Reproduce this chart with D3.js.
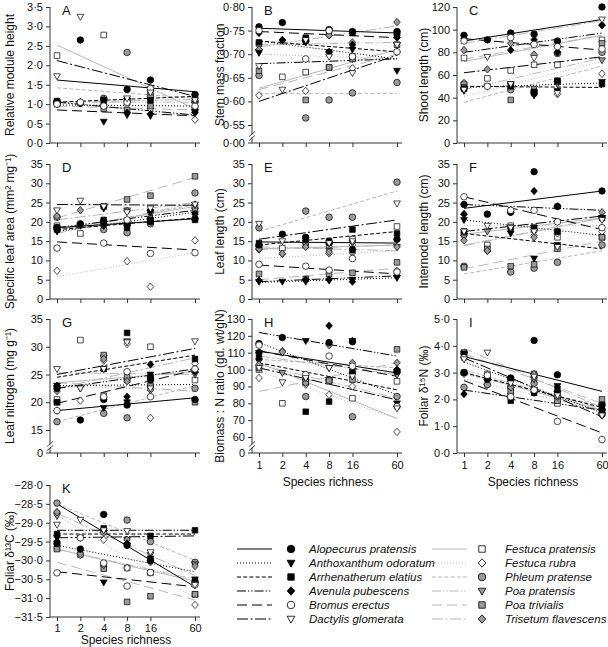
<!DOCTYPE html>
<html><head><meta charset="utf-8">
<script src="https://cdn.jsdelivr.net/npm/d3@7"></script>
<style>body{margin:0;background:#fff}svg{display:block;font-family:"Liberation Sans",Arial,sans-serif}</style>
</head><body><svg id="c" width="608" height="647"></svg>
<script>
const richness = [1, 2, 4, 8, 16, 60];
const species = ["Alopecurus pratensis","Anthoxanthum odoratum","Arrhenatherum elatius","Avenula pubescens","Bromus erectus","Dactylis glomerata","Festuca pratensis","Festuca rubra","Phleum pratense","Poa pratensis","Poa trivialis","Trisetum flavescens"];

// ---- A: relative module height
const ptsA = [[1.05,2.65,null,1.38,1.62,1.25],[1.02,null,0.55,0.72,0.70,0.80],[1.08,null,1.10,1.12,1.10,1.20],[1.00,1.02,1.00,0.78,0.75,0.78],[1.00,1.05,0.95,1.05,1.40,0.95],[1.72,3.25,null,1.15,1.30,1.10],[2.25,null,2.78,1.10,1.38,0.85],[1.02,1.05,0.98,1.00,0.88,0.60],[1.05,1.02,1.15,2.33,1.25,1.05],[1.05,null,1.10,1.08,1.10,1.00],[1.00,null,0.88,0.85,0.95,0.90],[1.05,1.05,1.12,1.08,1.20,1.10]];
const fitA = [[1.62,1.32],[0.98,0.95],[1.05,1.20],[1.05,0.72],[0.85,0.70],[2.12,1.20],[2.52,0.88],[1.05,0.70],[1.42,1.15],[1.05,1.05],[0.95,0.85],[1.05,1.12]];
// ---- B: stem mass fraction
const ptsB = [[0.758,0.767,0.728,0.752,0.748,0.748],[0.703,null,0.725,0.705,0.710,0.665],[0.725,null,0.735,0.750,0.745,0.740],[0.745,0.730,0.727,0.705,0.720,0.735],[0.750,null,0.690,0.750,0.695,0.705],[0.675,0.625,0.730,0.695,0.660,0.720],[0.722,0.652,0.662,0.672,0.695,0.745],[0.613,0.730,0.622,0.740,0.670,0.705],[0.655,null,0.565,0.603,0.618,0.640],[0.705,null,null,0.700,0.690,0.720],[0.665,null,0.603,0.672,0.690,0.720],[0.710,0.730,0.730,0.740,0.725,0.768]];
const fitB = [[0.755,0.745],[0.728,0.690],[0.728,0.705],[0.680,0.690],[0.748,0.735],[0.600,0.698],[0.628,0.710],[0.700,0.690],[0.617,0.617],[0.720,0.725],[0.625,0.700],[0.715,0.760]];
// ---- C: shoot length
const ptsC = [[95,91,97,96,90,120],[47,50,52,42,46,54],[48,null,50,45,55,52],[92,null,82,91,80,104],[90,50,93,87,85,83],[47,76,52,75,44,109],[75,57,64,69,69,91],[53,null,49,45,43,61],[52,null,47,46,79,80],[46,null,51,48,52,73],[49,null,38,44,54,88],[82,65,88,78,80,104]];
const fitC = [[90,109],[49,53],[50,49],[80,97],[92,82],[62,76],[72,95],[41,72],[36,68],[47,75],[74,95],[88,108]];
// ---- D: specific leaf area
const ptsD = [[18.5,19.5,20,19.5,20,20.8],[17.5,19,23.5,18.5,22.5,22],[18,null,20.5,18.5,20.5,20.5],[18.5,null,19,19.5,23,22],[13.2,null,14.5,20.5,11.8,12],[23,25.5,24,22.5,23.5,24.5],[19,17,20,20,20,23.5],[7.3,null,null,9.8,3.2,15.2],[21.2,null,18,17.2,19.5,27.5],[18,null,19.5,23,22,23],[18.5,null,24,25.8,26.8,31.8],[21.5,23,19.5,22.8,21,24.5]];
const fitD = [[18.5,20.8],[17.5,22.5],[18,21],[18.5,23],[14.8,12.7],[24.5,24.3],[18,24],[5.8,12],[17.5,24.5],[17,25],[21,31.5],[20.5,25]];
// ---- E: leaf length
const ptsE = [[14,16.8,16,14.5,12.8,15.5],[4.5,4.5,4.5,4.8,5,5.5],[14.5,null,15.5,15,18,17],[4.8,null,5,5,4.5,6],[9,null,8.5,7.5,10.5,7],[19.5,15,null,14.5,15,24.8],[13.5,13.2,14,14,15.5,18.8],[12.8,11.7,null,11.8,14,7.3],[18.5,null,22.8,21.2,21.2,30.3],[13,null,14,12.5,14.5,13.5],[6.5,null,5.2,6.5,6.8,9.5],[13,11.8,13.5,12.2,12,13.5]];
const fitE = [[14.8,14.5],[4.3,5.5],[14,17.5],[4.5,6],[8.8,6.5],[15.5,20.5],[13,14],[10.5,12.5],[17.5,28],[12.8,14],[5,8],[13.5,12.5]];
// ---- F: internode length
const ptsF = [[24.5,22,22.5,33,24,28],[20.5,null,17,10.5,14,21],[17.5,null,18.5,18.5,17.5,21],[22,null,null,28,24,21],[26.5,null,23,23,20,18.5],[17.5,19,18.5,17.5,13.5,20.5],[17,14,19,18,16,16],[22,12.5,null,16.5,17,17.5],[8.5,null,7,8,9.5,14],[16,17.5,null,18.5,13.5,21],[8.2,13,8.5,9,13,16],[15.2,12.5,22.5,16,17.5,22.5]];
const fitF = [[23.5,28],[20.5,16.5],[17,13],[24.5,23],[26.5,18],[17.5,21.5],[16.8,21],[19,19],[6.5,12.5],[14,21],[7.8,15],[13.8,21]];
// ---- G: leaf nitrogen
const ptsG = [[22.5,16.8,20.5,19.5,24,20.5],[23,22.5,19,20,25,25.5],[20,null,26,32.5,24.5,27.8],[23,null,null,21,26.8,25.5],[18.5,null,21,25.5,21,26],[26,22.5,26,30.8,22.5,31],[20.5,31.2,21.2,24,30,24],[18.5,20.3,27.5,30.5,17.2,27],[16.5,null,18,17.2,24.5,22.5],[22.5,null,28,31,22.5,25],[20,null,28.5,24.5,23,20],[22,null,27.8,23.8,22.2,26]];
const fitG = [[18.5,20.8],[23,23.2],[24.5,28.5],[22.5,26],[19.8,25.8],[25,29.7],[23.5,25.5],[23,22],[16.5,23],[25.3,25],[23.5,22],[22.5,28]];
// ---- H: biomass : N ratio
const ptsH = [[115.5,119,null,116,116.5,99],[110,null,117,101,117,80],[107,null,75,81,99,99],[110,null,null,126,117,100],[114.5,null,97,108,102,78],[101,92.5,95,101,96,77],[100,80,94,93,83,93],[95,111,91,85,90,63],[110,null,84,94,72,84],[105,98,93,94,97,97],[101,null,92.5,93.5,94,112],[103,110.5,92,114.5,104,104]];
const fitH = [[111,98],[116,85],[104,88],[122,108],[111,96],[101,82],[104,71],[99,71],[106,101],[103,83],[87,104],[108,97]];
// ---- I: foliar d15N
const ptsI = [[3.0,2.75,2.8,4.2,2.92,1.6],[3.65,null,2.75,2.35,2.5,1.75],[3.7,null,1.95,2.25,2.4,1.8],[2.2,null,null,2.25,2.3,1.5],[3.55,2.9,2.1,2.35,1.18,0.5],[3.5,3.75,2.6,2.85,2.15,1.4],[3.0,2.95,2.15,2.8,1.85,1.55],[2.95,2.55,2.5,2.3,2.05,1.4],[2.45,2.55,2.45,2.6,2.15,1.45],[3.7,null,2.65,2.75,2.2,1.7],[3.75,null,2.3,2.95,1.95,2.0],[3.0,2.75,2.45,2.95,2.1,1.65]];
const fitI = [[3.6,2.3],[3.4,1.5],[3.0,1.7],[2.35,1.6],[2.7,0.75],[3.55,1.35],[3.0,1.6],[2.75,1.6],[2.95,1.75],[3.9,1.7],[3.7,1.85],[3.1,1.65]];
// ---- K: foliar d13C
const ptsK = [[-29.55,-29.7,-28.78,-29.6,-30.0,-30.55],[-29.4,null,-30.58,-29.6,-29.95,-30.5],[-29.3,null,-29.15,null,-29.35,-29.2],[-29.5,null,null,-29.55,-29.95,-30.6],[-30.33,-29.4,-30.07,-30.68,-30.32,-30.65],[-29.05,-28.92,-29.2,-29.22,-29.78,-30.65],[-29.68,-29.85,-30.1,-30.2,-30.33,-30.9],[-28.72,-29.86,-29.45,-30.2,-30.05,-31.18],[-28.48,null,-29.25,-28.93,-29.5,-30.05],[-28.82,-29.4,null,-29.45,-29.85,-30.1],[-29.7,null,-30.22,-31.1,-30.95,-30.9],[-28.72,-29.82,-30.12,-29.45,-30.02,-30.15]];
const fitK = [[-28.5,-30.7],[-29.6,-30.3],[-29.3,-29.3],[-29.2,-29.2],[-30.3,-30.7],[-29.4,-29.35],[-29.7,-30.55],[-28.8,-31.0],[-28.5,-30.0],[-29.7,-30.5],[-30.05,-31.05],[-28.75,-30.4]];

// tick values
const ticksA = [0,0.5,1,1.5,2,2.5,3,3.5];
const ticksB = [0.55,0.60,0.65,0.70,0.75,0.80];
const ticksC = [0,20,40,60,80,100,120];
const ticksDEF = [0,5,10,15,20,25,30,35];
const ticksG = [15,20,25,30,35];
const ticksH = [60,70,80,90,100,110,120,130];
const ticksI = [0,1,2,3,4,5];
const ticksK = [-31.5,-31,-30.5,-30,-29.5,-29,-28.5,-28];

// styles
const black = "#000", grey = "#b8b8b8", greyFill = "#9a9a9a";
const dashes = [null, "1,2", "4,2.2", "9,2,1.3,2,1.3,2", "10,5", "11,2.5,2,2.5"];
const shapes = ["circle","tri","square","diamond","circle","tri","square","diamond","circle","tri","square","diamond"];
const fills = [black,black,black,black,"#fff","#fff","#fff","#fff",greyFill,greyFill,greyFill,greyFill];
function lineColor(i){return i<6?black:grey;}
function lineDash(i){return dashes[i%6];}
function markerPath(shape){
  if(shape==="circle") return d3.symbol(d3.symbolCircle, 34)();
  if(shape==="square") return "M-2.8,-2.8H2.8V2.8H-2.8Z";
  if(shape==="diamond") return "M0,-3.7L3.3,0L0,3.7L-3.3,0Z";
  return "M-3.4,-2.4L3.4,-2.4L0,3.6Z";
}

const svg = d3.select("#c");
const fmt = (d, p) => d3.format("." + p + "f")(d).replace(".", "·");

const cols = [50, 252, 457];
const rows = [[7,143],[164,299],[319,453],[485,617]];
const panels = [
  {id:"A", c:0, r:0, pts:ptsA, fit:fitA, ticks:ticksA, dom:[0,3.5], p:1, title:"Relative module height"},
  {id:"B", c:1, r:0, pts:ptsB, fit:fitB, ticks:ticksB, dom:[0.55,0.80], p:2, brk:"0·00", title:"Stem mass fraction"},
  {id:"C", c:2, r:0, pts:ptsC, fit:fitC, ticks:ticksC, dom:[0,120], p:0, title:"Shoot length (cm)"},
  {id:"D", c:0, r:1, pts:ptsD, fit:fitD, ticks:ticksDEF, dom:[0,35], p:0, title:"Specific leaf area (mm² mg⁻¹)"},
  {id:"E", c:1, r:1, pts:ptsE, fit:fitE, ticks:ticksDEF, dom:[0,35], p:0, title:"Leaf length (cm)"},
  {id:"F", c:2, r:1, pts:ptsF, fit:fitF, ticks:ticksDEF, dom:[0,35], p:0, title:"Internode length (cm)"},
  {id:"G", c:0, r:2, pts:ptsG, fit:fitG, ticks:ticksG, dom:[15,35], p:0, brk:"0", title:"Leaf nitrogen (mg g⁻¹)"},
  {id:"H", c:1, r:2, pts:ptsH, fit:fitH, ticks:ticksH, dom:[60,130], p:0, brk:"0", xl:true, title:"Biomass : N ratio (gd. wt/gN)"},
  {id:"I", c:2, r:2, pts:ptsI, fit:fitI, ticks:ticksI, dom:[0,5], p:1, xl:true, title:"Foliar δ¹⁵N (‰)"},
  {id:"K", c:0, r:3, pts:ptsK, fit:fitK, ticks:ticksK, dom:[-31.5,-28], p:1, xl:true, tight:true, title:"Foliar δ¹³C (‰)"}
];

panels.forEach(P => {
  const ax = cols[P.c], top = rows[P.r][0], bot = rows[P.r][1];
  const x = d3.scaleLog().domain([1,60]).range([ax+7, ax+145]);
  let yBot = bot;
  if (P.brk) yBot = P.brk === "0·00" ? bot-18 : (P.id==="G" ? bot-23 : bot-16);
  const y = d3.scaleLinear().domain(P.dom).range([yBot, top]);
  const g = svg.append("g");
  // y axis
  const yax = g.append("g").attr("transform",`translate(${ax},0)`)
    .call(d3.axisLeft(y).tickValues(P.ticks).tickSize(4).tickPadding(3).tickFormat(d=>fmt(d,P.p)));
  yax.select(".domain").attr("d",`M0,${top}V${bot}`);
  if (P.brk) {
    const tk = yax.append("g").attr("class","tick").attr("transform",`translate(0,${bot})`);
    tk.append("line").attr("x2",-4).attr("stroke","#000");
    tk.append("text").attr("x",-7).attr("dy","0.32em").attr("fill","#000").text(P.brk);
    const by = bot-7;
    yax.append("rect").attr("x",-3).attr("y",by-1.5).attr("width",6).attr("height",3).attr("fill","#fff");
    yax.append("line").attr("x1",-3).attr("y1",by+0.5).attr("x2",3).attr("y2",by-4.5).attr("stroke","#000").attr("stroke-width",0.9);
    yax.append("line").attr("x1",-3).attr("y1",by+4.5).attr("x2",3).attr("y2",by-0.5).attr("stroke","#000").attr("stroke-width",0.9);
  }
  yax.selectAll("text").attr("font-size",11).attr("fill","#111");
  yax.selectAll("line,path").attr("stroke","#333");
  // x axis
  const xax = g.append("g").attr("transform",`translate(0,${bot})`)
    .call(d3.axisBottom(x).tickValues(richness).tickSize(4).tickPadding(P.tight?3:4).tickFormat(d=>P.xl?d:""));
  xax.select(".domain").attr("d",`M${ax},0H${ax+150}`);
  xax.selectAll("text").attr("font-size",11).attr("fill","#111");
  xax.selectAll("line,path").attr("stroke","#333");
  if (P.xl) g.append("text").attr("x",(ax+7+ax+145)/2).attr("y",bot+(P.tight?27:33)).attr("text-anchor","middle").attr("font-size",12).attr("fill","#111").text("Species richness");
  // y title
  const tx = P.c===0 ? 14 : (P.c===1 ? 224 : 428);
  g.append("text").attr("transform",`translate(${tx},${(top+bot)/2}) rotate(-90)`).attr("text-anchor","middle").attr("font-size",12).attr("fill","#111").text(P.title);
  // panel letter
  g.append("text").attr("x",ax+12).attr("y",top+8).attr("font-size",13).attr("fill","#111").text(P.id);
  // fit lines
  const ln = d3.line().x(d=>x(d[0])).y(d=>y(d[1]));
  const order = [6,7,8,9,10,11,0,1,2,3,4,5];
  order.forEach(i => {
    g.append("path").attr("d", ln([[1,P.fit[i][0]],[60,P.fit[i][1]]]))
      .attr("fill","none").attr("stroke",lineColor(i)).attr("stroke-width",1)
      .attr("stroke-dasharray",lineDash(i));
  });
  // points
  order.forEach(i => {
    P.pts[i].forEach((v,j) => {
      if (v===null) return;
      g.append("path").attr("d",markerPath(shapes[i]))
        .attr("transform",`translate(${x(richness[j])},${y(v)})`)
        .attr("fill",fills[i]).attr("stroke","#000").attr("stroke-width",0.7);
    });
  });
});

// legend
const leg = svg.append("g");
species.forEach((s,i) => {
  const col = i<6?0:1, row = i%6;
  const lx = col===0?237:432, mx = col===0?291:482, txx = col===0?309:505;
  const yy = 549 + row*14;
  leg.append("line").attr("x1",lx).attr("x2",lx+35).attr("y1",yy).attr("y2",yy)
    .attr("stroke",lineColor(i)).attr("stroke-width",1).attr("stroke-dasharray",lineDash(i));
  leg.append("path").attr("d",markerPath(shapes[i])).attr("transform",`translate(${mx},${yy}) scale(1.15)`)
    .attr("fill",fills[i]).attr("stroke","#000").attr("stroke-width",0.7);
  leg.append("text").attr("x",txx).attr("y",yy).attr("dy","0.35em").attr("font-size",11.5).attr("font-style","italic").attr("fill","#111").text(s);
});
</script></body></html>
